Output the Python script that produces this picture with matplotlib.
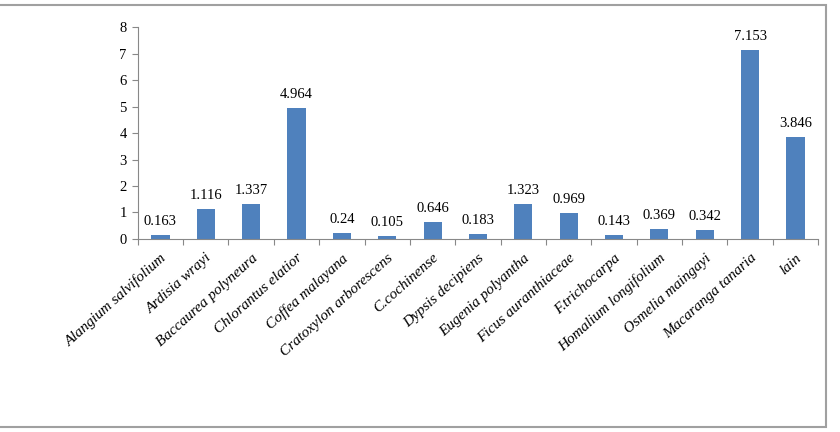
import matplotlib
matplotlib.use("Agg")
import matplotlib.pyplot as plt
from matplotlib.patches import Rectangle
import numpy as np

species = [
    "Alangium salvifolium", "Ardisia wrayi", "Baccaurea polyneura",
    "Chlorantus elatior", "Coffea malayana", "Cratoxylon arborescens",
    "C.cochinense", "Dypsis decipiens", "Eugenia polyantha",
    "Ficus auranthiaceae", "F.trichocarpa", "Homalium longifolium",
    "Osmelia maingayi", "Macaranga tanaria", "lain",
]
values = [0.163, 1.116, 1.337, 4.964, 0.24, 0.105, 0.646, 0.183,
          1.323, 0.969, 0.143, 0.369, 0.342, 7.153, 3.846]
labels = ["0.163", "1.116", "1.337", "4.964", "0.24", "0.105", "0.646", "0.183",
          "1.323", "0.969", "0.143", "0.369", "0.342", "7.153", "3.846"]

plt.rcParams["font.family"] = ["Liberation Serif", "DejaVu Serif"]

fig = plt.figure(figsize=(8.4, 4.32), dpi=100)
ax = fig.add_axes([0.164, 0.447, 0.810, 0.490])

x = np.arange(len(species))
bars = ax.bar(x, values, width=0.4, color="#4F81BD", zorder=2)

for rect, lab in zip(bars, labels):
    ax.annotate(lab, (rect.get_x() + rect.get_width() / 2, rect.get_height()),
                xytext=(0, 5), textcoords="offset points",
                ha="center", va="bottom", fontsize=10.5)

ax.set_xlim(-0.5, len(species) - 0.5)
ax.set_ylim(0, 8)
ax.set_yticks(range(0, 9))
ax.tick_params(axis="y", labelsize=10.5, length=4, color="#888888", pad=4)

# ticks sit between the categories, labels sit under each bar
ax.set_xticks(np.arange(-0.5, len(species), 1.0))
ax.set_xticklabels([])
ax.set_xticks(x, minor=True)
ax.set_xticklabels(species, minor=True, rotation=42, ha="right",
                   rotation_mode="anchor", fontsize=11, style="italic")
ax.tick_params(axis="x", which="major", length=4, color="#888888")
ax.tick_params(axis="x", which="minor", length=0, pad=9)

for side in ("top", "right"):
    ax.spines[side].set_visible(False)
for side in ("left", "bottom"):
    ax.spines[side].set_color("#888888")

fig.patches.append(Rectangle((-0.01, 0.012), 0.993, 0.976, transform=fig.transFigure,
                             fill=False, edgecolor="#a0a0a0", linewidth=1.5))

fig.savefig("out.png", dpi=100)
